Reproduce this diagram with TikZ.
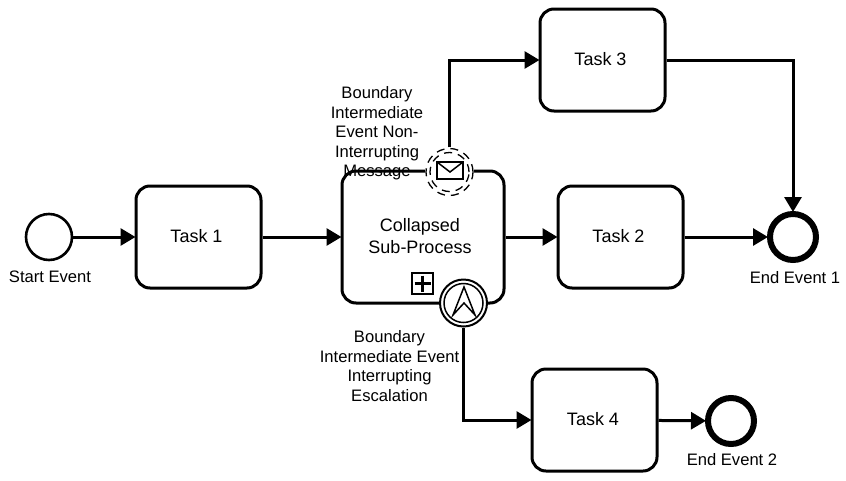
\documentclass[tikz,border=0pt]{standalone}
\usepackage{fontspec}
\setmainfont{Liberation Sans}
\usetikzlibrary{arrows.meta,positioning,calc}
\tikzset{
  x=1pt,y=-1pt,
  taskbox/.style={draw=black,line width=3pt,rounded corners=14pt,fill=white,minimum width=125pt,minimum height=102pt,inner sep=0pt},
  tasktext/.style={font=\fontsize{18}{22}\selectfont,align=center,inner sep=0pt},
  flow/.style={line width=3pt,shorten >=-1pt,-{Triangle[length=15pt,width=17pt]}},
  startev/.style={circle,draw=black,line width=2.6pt,fill=white,minimum size=46pt,inner sep=0pt},
  endev/.style={circle,draw=black,line width=6pt,fill=white,minimum size=46pt,inner sep=0pt},
  boundev/.style={circle,fill=white,minimum size=49pt,inner sep=0pt},
  lab/.style={font=\fontsize{16.6}{19.5}\selectfont,align=center,inner sep=0pt},
}
\begin{document}
\begin{tikzpicture}
\useasboundingbox (0,0) rectangle (846,480);
\node[startev] (start) at (49,237) {};
\node[taskbox] (t1) at (198.5,237) {};
\node[tasktext] at (196.5,236) {Task 1};
\node[taskbox,minimum width=162pt,minimum height=132pt] (sub) at (423,237) {};
\node[tasktext] at (420,236) {Collapsed\\Sub-Process};
\node[taskbox] (t2) at (620.5,237) {};
\node[tasktext] at (618.5,236) {Task 2};
\node[taskbox] (t3) at (602.5,60) {};
\node[tasktext] at (600.5,59) {Task 3};
\node[taskbox] (t4) at (594.5,420) {};
\node[tasktext] at (593,419) {Task 4};
\node[endev] (e1) at (793,237) {};
\node[endev] (e2) at (731,421) {};
\node[draw=black,line width=2pt,minimum size=21pt,inner sep=0pt,fill=white] (plus) at (422.5,283.5) {};
\draw[line width=3.4pt] ($(plus.center)+(-8,0)$) -- ($(plus.center)+(8,0)$);
\draw[line width=3.4pt] ($(plus.center)+(0,-8)$) -- ($(plus.center)+(0,8)$);
\node[boundev] (msg) at (449.5,172) {};
\node[boundev] (esc) at (463.5,303) {};
\draw[line width=1.3pt,dash pattern=on 8pt off 6pt] (msg) circle[radius=23.5pt];
\draw[line width=1.3pt,dash pattern=on 8pt off 6pt] (msg) circle[radius=19.5pt];
\draw[line width=1.5pt,fill=white,line join=miter] (437,162) rectangle (463,179);
\draw[line width=1.5pt] (437,162) -- (450,172) -- (463,162);
\draw[line width=2pt] (esc) circle[radius=23.5pt];
\draw[line width=1.5pt] (esc) circle[radius=19.5pt];
\draw[line width=1.5pt,line join=miter] (464,287) -- (453,315) -- (464,303) -- (475,315) -- cycle;
\draw[flow] (start) -- (t1);
\draw[flow] (t1) -- (sub);
\draw[flow] (sub) -- (t2);
\draw[flow] (t2) -- (e1);
\draw[flow] (t4) -- (e2);
\draw[flow] (msg.north) |- (t3.west);
\draw[flow] (t3.east) -| (e1.north);
\draw[flow] (esc.south) |- (t4.west);
\node[lab] at (50,276.5) {Start Event};
\node[lab] at (795,277.5) {End Event 1};
\node[lab] at (732,460) {End Event 2};
\node[lab] at (377,133.5) {Boundary\\Intermediate\\Event Non-\\Interrupting\\Message};
\node[lab] at (389.5,366) {Boundary\\Intermediate Event\\Interrupting\\Escalation};
\end{tikzpicture}
\end{document}
